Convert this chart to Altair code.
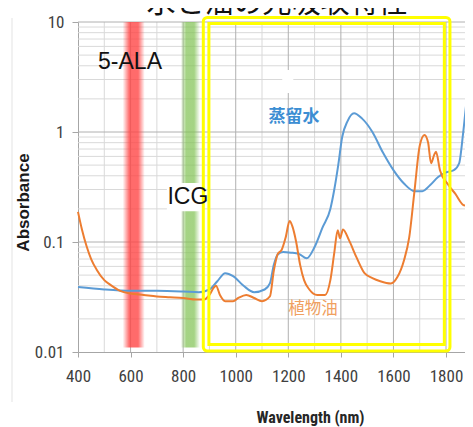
import altair as alt
import pandas as pd

# ---- data ----
wavelength_water = [400, 500, 600, 700, 800, 860, 900, 930, 960, 990,
                    1030, 1070, 1110, 1130, 1145, 1160, 1180, 1210, 1240, 1270,
                    1300, 1330, 1360, 1375, 1390, 1405, 1425, 1450, 1480, 1520,
                    1560, 1600, 1640, 1680, 1710, 1740, 1770, 1800, 1830, 1850,
                    1865, 1880, 1900]
absorbance_water = [0.039, 0.037, 0.036, 0.036, 0.0355, 0.035, 0.037, 0.044, 0.052, 0.049,
                    0.040, 0.035, 0.037, 0.042, 0.062, 0.077, 0.081, 0.080, 0.078, 0.071,
                    0.090, 0.135, 0.20, 0.30, 0.50, 0.90, 1.25, 1.48, 1.33, 1.0,
                    0.65, 0.45, 0.34, 0.29, 0.29, 0.33, 0.39, 0.43, 0.45, 0.52,
                    0.97, 2.1, 4.5]

wavelength_oil = [400, 415, 433, 450, 471, 500, 522, 560, 600, 650,
                  700, 750, 800, 850, 880, 900, 915, 925, 940, 960,
                  990, 1010, 1040, 1070, 1100, 1130, 1145, 1160, 1175, 1190,
                  1205, 1215, 1230, 1245, 1260, 1280, 1310, 1340, 1360, 1375,
                  1388, 1397, 1408, 1430, 1460, 1490, 1520, 1550, 1590, 1615,
                  1640, 1660, 1680, 1700, 1718, 1732, 1743, 1755, 1762, 1777,
                  1805, 1835, 1870, 1890, 1900]
absorbance_oil = [0.188, 0.13, 0.091, 0.07, 0.056, 0.045, 0.041, 0.036, 0.034, 0.033,
                  0.032, 0.0315, 0.031, 0.030, 0.030, 0.033, 0.038, 0.040, 0.033, 0.029,
                  0.029, 0.031, 0.033, 0.031, 0.029, 0.032, 0.055, 0.078, 0.085, 0.11,
                  0.155, 0.14, 0.10, 0.062, 0.045, 0.037, 0.033, 0.033, 0.045, 0.08,
                  0.128, 0.108, 0.13, 0.105, 0.072, 0.052, 0.047, 0.044, 0.042, 0.048,
                  0.068, 0.11, 0.29, 0.75, 0.94, 0.80, 0.52, 0.62, 0.66, 0.45,
                  0.34, 0.275, 0.215, 0.225, 0.22]

series_names = ["蒸留水", "植物油"]
x_ticks = [400, 600, 800, 1000, 1200, 1400, 1600, 1800]
y_ticks = [0.01, 0.1, 1, 10]
x_grid_major = [600, 800, 1000, 1200, 1400, 1600, 1800]
x_grid_minor = [500, 700, 900, 1100, 1300, 1500, 1700, 1900]
y_grid_major = [0.1, 1, 10]
y_grid_minor = [0.02, 0.03, 0.04, 0.05, 0.06, 0.07, 0.08, 0.09,
                0.2, 0.3, 0.4, 0.5, 0.6, 0.7, 0.8, 0.9,
                2, 3, 4, 5, 6, 7, 8, 9]

# the reference plot runs off the right edge of the page; keep its scale
W, H = 387, 330
X_MAX = 400 + W * 1500 / 394.3
NARROW = "Liberation Sans Narrow, Roboto Condensed, DejaVu Sans Condensed, sans-serif"
CJK = "Noto Sans CJK JP, Noto Sans, sans-serif"

xs = alt.Scale(domain=[400, X_MAX], nice=False, zero=False)
ys = alt.Scale(type="log", domain=[0.01, 10], nice=False)

df = pd.concat([
    pd.DataFrame({"wl": wavelength_water, "a": absorbance_water, "s": series_names[0]}),
    pd.DataFrame({"wl": wavelength_oil, "a": absorbance_oil, "s": series_names[1]}),
])

# grid
vmin = alt.Chart(pd.DataFrame({"g": x_grid_minor})).mark_rule(color="#D9D9D9", strokeWidth=1).encode(
    x=alt.X("g:Q", scale=xs), y=alt.value(0), y2=alt.value(H))
hmin = alt.Chart(pd.DataFrame({"g": y_grid_minor})).mark_rule(color="#D9D9D9", strokeWidth=1).encode(
    y=alt.Y("g:Q", scale=ys), x=alt.value(0), x2=alt.value(W + 8))
vmaj = alt.Chart(pd.DataFrame({"g": x_grid_major})).mark_rule(color="#B0B0B0", strokeWidth=1).encode(
    x=alt.X("g:Q", scale=xs), y=alt.value(0), y2=alt.value(H))
hmaj = alt.Chart(pd.DataFrame({"g": y_grid_major})).mark_rule(color="#B0B0B0", strokeWidth=1).encode(
    y=alt.Y("g:Q", scale=ys), x=alt.value(0), x2=alt.value(W + 8))

def band(lo, hi, rgb, core):
    grad = alt.Gradient(
        gradient="linear", x1=0, x2=1, y1=0, y2=0,
        stops=[alt.GradientStop(color=f"rgba({rgb},0)", offset=0),
               alt.GradientStop(color=f"rgba({rgb},{core})", offset=0.3),
               alt.GradientStop(color=f"rgba({rgb},{core})", offset=0.7),
               alt.GradientStop(color=f"rgba({rgb},0)", offset=1)])
    return alt.Chart(pd.DataFrame({"lo": [lo], "hi": [hi], "t": [10], "b": [0.011]})).mark_rect(
        fill=grad).encode(
        x=alt.X("lo:Q", scale=xs), x2="hi:Q",
        y=alt.Y("t:Q", scale=ys), y2="b:Q")

red_band = band(570, 654, "255,70,70", 0.8)
green_band = band(790, 864, "130,195,85", 0.72)

white_boxes = alt.Chart(pd.DataFrame({"lo": [738, 1177], "hi": [876, 1219],
                                      "t": [0.344, 3.66], "b": [0.19, 2.26]})).mark_rect(
    fill="white").encode(
    x=alt.X("lo:Q", scale=xs), x2="hi:Q",
    y=alt.Y("t:Q", scale=ys), y2="b:Q")

lines = alt.Chart(df).mark_line(strokeWidth=2, interpolate="monotone").encode(
    x=alt.X("wl:Q", scale=xs, axis=alt.Axis(
        values=x_ticks, format="d", title="Wavelength (nm)", grid=False, labelFlush=False,
        domainColor="#A6A6A6", tickColor="#A6A6A6", tickSize=5,
        labelFont=NARROW, labelFontSize=17, labelColor="#404040", labelPadding=11,
        titleFont=NARROW, titleFontSize=16, titleFontWeight="bold", titleColor="#262626",
        titleX=232, titleY=70, titleBaseline="alphabetic", titleAlign="center")),
    y=alt.Y("a:Q", scale=ys, axis=alt.Axis(
        values=y_ticks, format="~g", title="Absorbance", grid=False, labelFlush=False,
        domainColor="#A6A6A6", tickColor="#A6A6A6", tickSize=6,
        labelFont=NARROW, labelFontSize=17, labelColor="#404040", labelPadding=8,
        titleFont="Liberation Sans", titleFontSize=17, titleFontWeight="bold", titleColor="#1a1a1a",
        titleX=-50, titleY=180, titleBaseline="alphabetic", titleAlign="center", titleAngle=270)),
    color=alt.Color("s:N", scale=alt.Scale(domain=series_names, range=["#5B9BD5", "#ED7D31"]), legend=None),
    detail="s:N",
)

outer_round = alt.Chart(pd.DataFrame({"lo": [876.7], "hi": [1815], "t": [11.0], "b": [0.0102]})).mark_rect(
    fillOpacity=0, stroke="#FFFF00", strokeWidth=3, cornerRadius=4).encode(
    x=alt.X("lo:Q", scale=xs), x2="hi:Q",
    y=alt.Y("t:Q", scale=ys), y2="b:Q")
inner_rect = alt.Chart(pd.DataFrame({"lo": [898], "hi": [1793.6], "t": [9.69], "b": [0.0117]})).mark_rect(
    fillOpacity=0, stroke="#FFFF00", strokeWidth=3).encode(
    x=alt.X("lo:Q", scale=xs), x2="hi:Q",
    y=alt.Y("t:Q", scale=ys), y2="b:Q")

def label(txt, x, y, size, color, font, weight="normal"):
    return alt.Chart(pd.DataFrame({"t": [txt]})).mark_text(
        fontSize=size, color=color, font=font, fontWeight=weight,
        align="center", baseline="middle").encode(
        x=alt.datum(x, scale=xs), y=alt.datum(y, scale=ys), text="t:N")

t_ala = label("5-ALA", 598, 4.33, 23, "#111111", "Liberation Sans")
t_icg = label("ICG", 818, 0.2565, 23, "#111111", "Liberation Sans")
t_water = label("蒸留水", 1222, 1.37, 17, "#3C8ED3", CJK, "bold")
t_oil = label("植物油", 1294, 0.0246, 16.5, "#F0A060", CJK)

title = alt.Chart(pd.DataFrame({"t": ["水と油の光吸収特性"]})).mark_text(
    fontSize=29, color="#111111", font=CJK, align="center", baseline="alphabetic").encode(
    x=alt.value(199), y=alt.value(-9), text="t:N")

edge = alt.Chart(pd.DataFrame({"a": [0]})).mark_rule(color="#E3E3E3", strokeWidth=1).encode(
    x=alt.value(-66), y=alt.value(-4), y2=alt.value(380))

chart = alt.layer(
    vmin, hmin, vmaj, hmaj, red_band, green_band, white_boxes, lines,
    outer_round, inner_rect, t_ala, t_icg, t_water, t_oil, title, edge
).properties(
    width=W, height=H,
    autosize=alt.AutoSizeParams(type="none"),
    padding={"left": 70, "top": 14, "right": 0, "bottom": 75},
    background="white",
).configure_view(stroke=None).configure_axis(grid=False)

chart.save("out.html", embed_options={"renderer": "svg", "actions": False})
